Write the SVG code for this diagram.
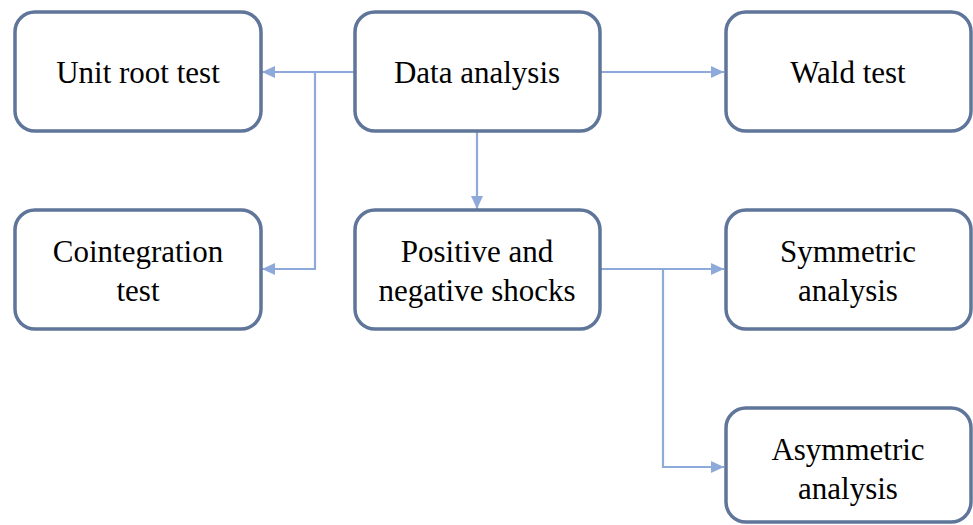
<svg xmlns="http://www.w3.org/2000/svg" width="973" height="525" viewBox="0 0 973 525">
<style>
.box{fill:#fff;stroke:#5f7599;stroke-width:3.5}
.t{font-family:"Liberation Serif","Times New Roman",serif;font-size:31px;fill:#000;text-anchor:middle}
.c{fill:none;stroke:#8eaadb;stroke-width:2.2}
</style>
<defs>
<marker id="ah" markerWidth="13" markerHeight="12" refX="13" refY="6" orient="auto" markerUnits="userSpaceOnUse" viewBox="0 0 13 12">
<path d="M0,0 L13,6 L0,12 z" fill="#8eaadb"/>
</marker>
</defs>
<rect width="973" height="525" fill="#fff"/>
<g id="connectors">
<path class="c" d="M355,72 H262" marker-end="url(#ah)"/>
<path class="c" d="M315,72 V269 H262" marker-end="url(#ah)"/>
<path class="c" d="M600,72 H724" marker-end="url(#ah)"/>
<path class="c" d="M477,131 V209" marker-end="url(#ah)"/>
<path class="c" d="M600,269 H724" marker-end="url(#ah)"/>
<path class="c" d="M663,269 V467 H724" marker-end="url(#ah)"/>
</g>
<g id="unit-root"><rect class="box" x="15" y="12" width="246" height="119" rx="20"/><text class="t" x="138" y="83">Unit root test</text></g>
<g id="data-analysis"><rect class="box" x="355" y="12" width="245" height="119" rx="20"/><text class="t" x="477" y="83">Data analysis</text></g>
<g id="wald"><rect class="box" x="726" y="12" width="245" height="119" rx="20"/><text class="t" x="848" y="83">Wald test</text></g>
<g id="cointegration"><rect class="box" x="15" y="210" width="246" height="119" rx="20"/><text class="t" x="138" y="262">Cointegration</text><text class="t" x="138" y="301">test</text></g>
<g id="shocks"><rect class="box" x="355" y="210" width="245" height="119" rx="20"/><text class="t" x="477" y="262">Positive and</text><text class="t" x="477" y="301">negative shocks</text></g>
<g id="symmetric"><rect class="box" x="726" y="210" width="245" height="119" rx="20"/><text class="t" x="848" y="262">Symmetric</text><text class="t" x="848" y="301">analysis</text></g>
<g id="asymmetric"><rect class="box" x="726" y="408" width="245" height="114" rx="20"/><text class="t" x="848" y="460">Asymmetric</text><text class="t" x="848" y="499">analysis</text></g>
</svg>
